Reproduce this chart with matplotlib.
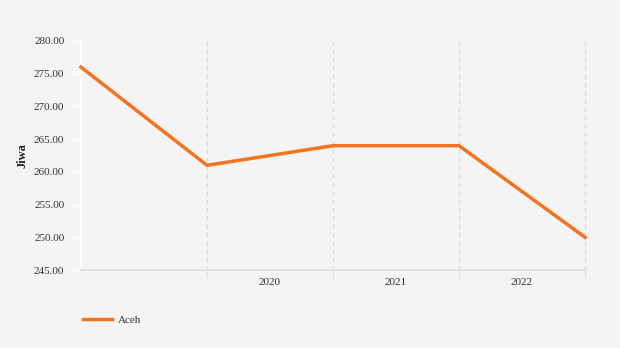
import matplotlib.pyplot as plt
from matplotlib.ticker import FixedLocator, NullFormatter

# Jumlah jiwa per periode
periods = [0, 1, 2, 3, 4]
values = [276, 261, 264, 264, 250]
year_labels = ['2020', '2021', '2022']
year_pos = [1.5, 2.5, 3.5]
y_ticks = [245, 250, 255, 260, 265, 270, 275, 280]

bg = '#f4f4f4'
orange = '#f47321'

plt.rcParams['font.family'] = ['Liberation Serif', 'DejaVu Serif']

fig = plt.figure(figsize=(6.2, 3.48), dpi=100, facecolor=bg)
ax = fig.add_axes([81 / 620, 1 - 270 / 348, 504 / 620, 229 / 348], facecolor=bg)

ax.plot(periods, values, color=orange, linewidth=2.5, solid_joinstyle='miter', clip_on=False, zorder=3)

ax.set_xlim(0, 4)
ax.set_ylim(245, 280)

# vertical dashed grid at category boundaries
ax.xaxis.set_major_locator(FixedLocator([1, 2, 3, 4]))
ax.xaxis.set_major_formatter(NullFormatter())
ax.xaxis.set_minor_locator(FixedLocator(year_pos))
ax.set_xticklabels(year_labels, minor=True)
ax.tick_params(axis='x', which='major', length=6, color='#e0e0e0', width=1)
ax.tick_params(axis='x', which='minor', length=0, pad=6, labelsize=8, labelcolor='#333333')
ax.grid(axis='x', which='major', color='#d8d8d8', linestyle=(0, (3, 3)), linewidth=1)
for gl in ax.get_xgridlines():
    gl.set_clip_on(False)

ax.set_yticks(y_ticks)
ax.set_yticklabels([f'{v:.2f}' for v in y_ticks])
ax.tick_params(axis='y', length=6, color='white', width=1, labelsize=8, labelcolor='#333333', pad=6)

for side in ['top', 'right']:
    ax.spines[side].set_visible(False)
ax.spines['left'].set_color('white')
ax.spines['left'].set_linewidth(1.5)
ax.spines['bottom'].set_color('#e0e0e0')
ax.spines['bottom'].set_linewidth(1.5)

ax.set_ylabel('Jiwa', fontsize=9, fontweight='bold', color='#222222', labelpad=4)

leg = fig.legend(['Aceh'], loc='center left', bbox_to_anchor=(73 / 620, 1 - 320 / 348),
                 frameon=False, fontsize=8, handlelength=2.6, handletextpad=0.5)
for t in leg.get_texts():
    t.set_color('#333333')

fig.savefig('out.png', dpi=100, facecolor=bg)
